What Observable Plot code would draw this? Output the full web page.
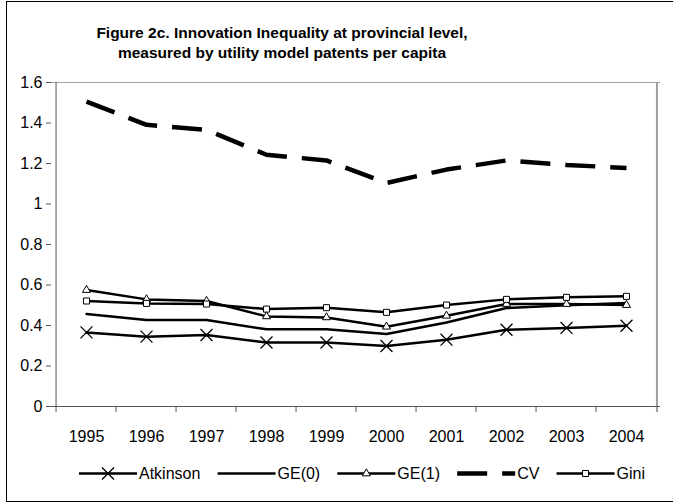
<!DOCTYPE html>
<html><head><meta charset="utf-8">
<script src="https://cdn.jsdelivr.net/npm/d3@7"></script>
<script src="https://cdn.jsdelivr.net/npm/@observablehq/plot@0.6"></script>
<style>
body{margin:0;background:#fff;overflow:hidden}
#wrap{position:relative;width:673px;height:504px;overflow:hidden;font-family:"Liberation Sans",Arial,sans-serif;background:#fff}
#border{position:absolute;left:6px;top:1px;width:720px;height:501px;border:1px solid #000;box-sizing:border-box}
#chart{position:absolute;left:0;top:0}
.ov{position:absolute;left:0;top:0;pointer-events:none}
</style></head><body>
<div id="wrap"><div id="border"></div><div id="chart"></div><svg id="title" class="ov" width="673" height="90"></svg><svg id="legend" class="ov" width="673" height="504"></svg></div>
<script>
const years = ["1995","1996","1997","1998","1999","2000","2001","2002","2003","2004"];
const atkinson = [0.366,0.345,0.353,0.316,0.316,0.299,0.330,0.379,0.388,0.399];
const ge0      = [0.457,0.427,0.427,0.381,0.381,0.358,0.415,0.486,0.500,0.511];
const ge1      = [0.575,0.529,0.521,0.445,0.440,0.394,0.448,0.506,0.506,0.501];
const cv       = [1.506,1.391,1.366,1.243,1.215,1.104,1.170,1.215,1.193,1.178];
const gini     = [0.521,0.509,0.506,0.481,0.488,0.465,0.501,0.529,0.539,0.544];
const seriesNames = ["Atkinson","GE(0)","GE(1)","CV","Gini"];
const yTicks = [0,0.2,0.4,0.6,0.8,1,1.2,1.4,1.6];
const titleLines = ["Figure 2c. Innovation Inequality at provincial level,","measured by utility model patents per capita"];

const seriesValues = [atkinson, ge0, ge1, cv, gini];
const styles = {
  "Atkinson": {line:{strokeWidth:2.5}, dot:{symbol:"times", r:5.5, fill:"none", strokeWidth:1.3}},
  "GE(0)": {line:{strokeWidth:2.5}, dot:null},
  "GE(1)": {line:{strokeWidth:2.5}, dot:{symbol:"triangle", r:3, fill:"#fff", strokeWidth:1}},
  "CV": {line:{strokeWidth:4.5, strokeDasharray:"30,15", strokeLinecap:"butt"}, dot:null},
  "Gini": {line:{strokeWidth:2.5}, dot:{symbol:"square", r:3.4, fill:"#fff", strokeWidth:1}}
};
const rows = [];
seriesNames.forEach((s, k) => years.forEach((y, i) => rows.push({series:s, year:y, value:seriesValues[k][i]})));

const W = 673, H = 504, mL = 51, mR = 13, mT = 82, mB = 98;
const half = (W - mL - mR) / years.length / 2;
const font = '"Liberation Sans",Arial,sans-serif';
const axisColor = "#555", gridGray = "#a0a0a0";

const marks = [
  Plot.ruleY([yTicks[yTicks.length-1]], {stroke: gridGray}),
  Plot.ruleX([years[years.length-1]], {dx: half, stroke: gridGray, strokeWidth: 2, insetBottom: -6}),
  Plot.ruleX(years, {dx: -half, stroke: axisColor, insetTop: H - mT - mB, insetBottom: -6}),
  Plot.ruleX([years[0]], {dx: -half, stroke: axisColor}),
  Plot.ruleY([0], {stroke: axisColor}),
  Plot.axisY({ticks: yTicks, tickSize: 5, tickPadding: 4, label: null, stroke: axisColor, fill: "#000",
    tickFormat: d => String(+d.toFixed(1))}),
  Plot.axisX({tickSize: 0, tickPadding: 24, label: null, fill: "#000"})
];
seriesNames.forEach(s => {
  const data = rows.filter(r => r.series === s);
  const st = styles[s];
  marks.push(Plot.line(data, {x: "year", y: "value", stroke: "#000", strokeLinejoin: "round", ...st.line}));
  if (st.dot) marks.push(Plot.dot(data, {x: "year", y: "value", stroke: "#000", ...st.dot}));
});

const plot = Plot.plot({
  width: W, height: H, marginLeft: mL, marginRight: mR, marginTop: mT, marginBottom: mB,
  style: {fontFamily: font, fontSize: "16px", color: "#000", background: "transparent", overflow: "visible"},
  x: {type: "point", domain: years, padding: 0.5},
  y: {domain: [0, 1.6]},
  marks
});
document.getElementById("chart").appendChild(plot);

// Title
const tsvg = d3.select("#title");
titleLines.forEach((t, i) => {
  tsvg.append("text").attr("x", 282).attr("y", 38 + i * 20).attr("text-anchor", "middle")
    .attr("font-family", font).attr("font-weight", "bold").attr("font-size", 15.5).attr("fill", "#000").text(t);
});

// Legend
const lsvg = d3.select("#legend");
const L = 58, gapST = 2, ly = 473.5, lStart = 79, lEnd = 645;
const items = seriesNames.map(s => {
  const g = lsvg.append("g");
  const txt = g.append("text").attr("font-family", font).attr("font-size", 16).attr("fill", "#000")
    .attr("dominant-baseline", "central").text(s);
  return {s, g, txt, w: txt.node().getComputedTextLength()};
});
const totalFixed = d3.sum(items, d => L + gapST + d.w);
const gap = (lEnd - lStart - totalFixed) / (items.length - 1);
let x = lStart;
items.forEach(it => {
  const st = styles[it.s];
  const ln = it.g.append("line").attr("x1", x).attr("x2", x + L).attr("y1", ly).attr("y2", ly)
    .attr("stroke", "#000").attr("stroke-width", st.line.strokeWidth);
  if (st.line.strokeDasharray) ln.attr("stroke-dasharray", st.line.strokeDasharray);
  if (st.dot) {
    const sym = {times: d3.symbolTimes, triangle: d3.symbolTriangle, square: d3.symbolSquare}[st.dot.symbol];
    it.g.append("path").attr("d", d3.symbol(sym, Math.PI * st.dot.r * st.dot.r)())
      .attr("transform", `translate(${x + L / 2},${ly})`)
      .attr("fill", st.dot.fill).attr("stroke", "#000").attr("stroke-width", st.dot.strokeWidth);
  }
  it.txt.attr("x", x + L + gapST).attr("y", ly);
  x += L + gapST + it.w + gap;
});
</script>
</body></html>
